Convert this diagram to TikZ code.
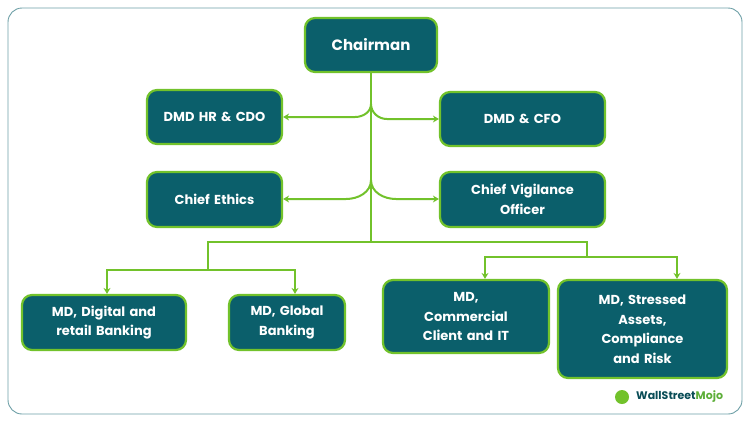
\documentclass[tikz,border=0pt]{standalone}
\usepackage{fontspec}
\setmainfont{Poppins}
\usetikzlibrary{arrows.meta}
\definecolor{teal}{HTML}{0B5F6B}
\definecolor{lg}{HTML}{72C22B}
\begin{document}
\begin{tikzpicture}[x=1pt,y=-1pt,
 box/.style={draw=lg,line width=2.2pt,fill=teal,rounded corners=10pt,text=white,font=\bfseries\fontsize{13}{19.5}\selectfont,align=center,inner sep=0pt},
 ln/.style={draw=lg,line width=2pt},
 ar/.style={ln,-{Stealth[length=6pt,width=7pt]}}]
\useasboundingbox (0,0) rectangle (750,424);
\draw[draw=teal!60,line width=0.9pt,rounded corners=14pt] (8,8) rectangle (742,414);
\newcommand\bx[6]{\node[box,minimum width=#4-#2,minimum height=#5-#3,text width=#4-#2-10] (#1) at ({(#2+#4)/2},{(#3+#5)/2}) {#6};}
\bx{ch}{305}{18}{437}{72}{\fontsize{15}{18}\selectfont Chairman}
\bx{hr}{147}{90}{282}{144}{DMD HR \& CDO}
\bx{cfo}{440}{92}{605}{146}{DMD \& CFO}
\bx{eth}{147}{172}{282}{227}{Chief Ethics}
\bx{vig}{440}{172}{605}{227}{Chief Vigilance\\Officer}
\bx{dig}{22}{295}{186}{350}{MD, Digital and\\retail Banking}
\bx{glo}{229}{295}{345}{350}{MD, Global\\Banking}
\bx{com}{383}{280}{549}{353}{MD,\\Commercial\\Client and IT}
\bx{str}{558}{280}{727}{378}{MD, Stressed\\Assets,\\Compliance\\and Risk}
\coordinate (t) at (371,242);
\draw[ln] (ch.south) -- (t);
\draw[ar] (371,104) to[out=-90,in=0] (355,117) -- (hr.east|-0,117);
\draw[ar] (371,104) to[out=-90,in=180] (387,119) -- (cfo.west|-0,119);
\draw[ar] (371,180) to[out=-90,in=0] (346,199) -- (eth.east|-0,199);
\draw[ar] (371,180) to[out=-90,in=180] (396,199) -- (vig.west|-0,199);
\draw[ln] (208,270) -- (208,242) -- (587,242) -- (587,257);
\draw[ar] (208,270) -| (dig.north-|107,0);
\draw[ar] (208,270) -| (glo.north-|295,0);
\draw[ar] (587,257) -| (com.north-|485,0);
\draw[ar] (587,257) -| (str.north-|677,0);
\node[font=\bfseries\fontsize{11}{13}\selectfont,text=teal!80!black,anchor=west,inner sep=0pt] (logo) at (636,397) {WallStreet\textcolor{lg!80!teal}{Mojo}};
\fill[lg] (622,397) circle (7);
\end{tikzpicture}
\end{document}
